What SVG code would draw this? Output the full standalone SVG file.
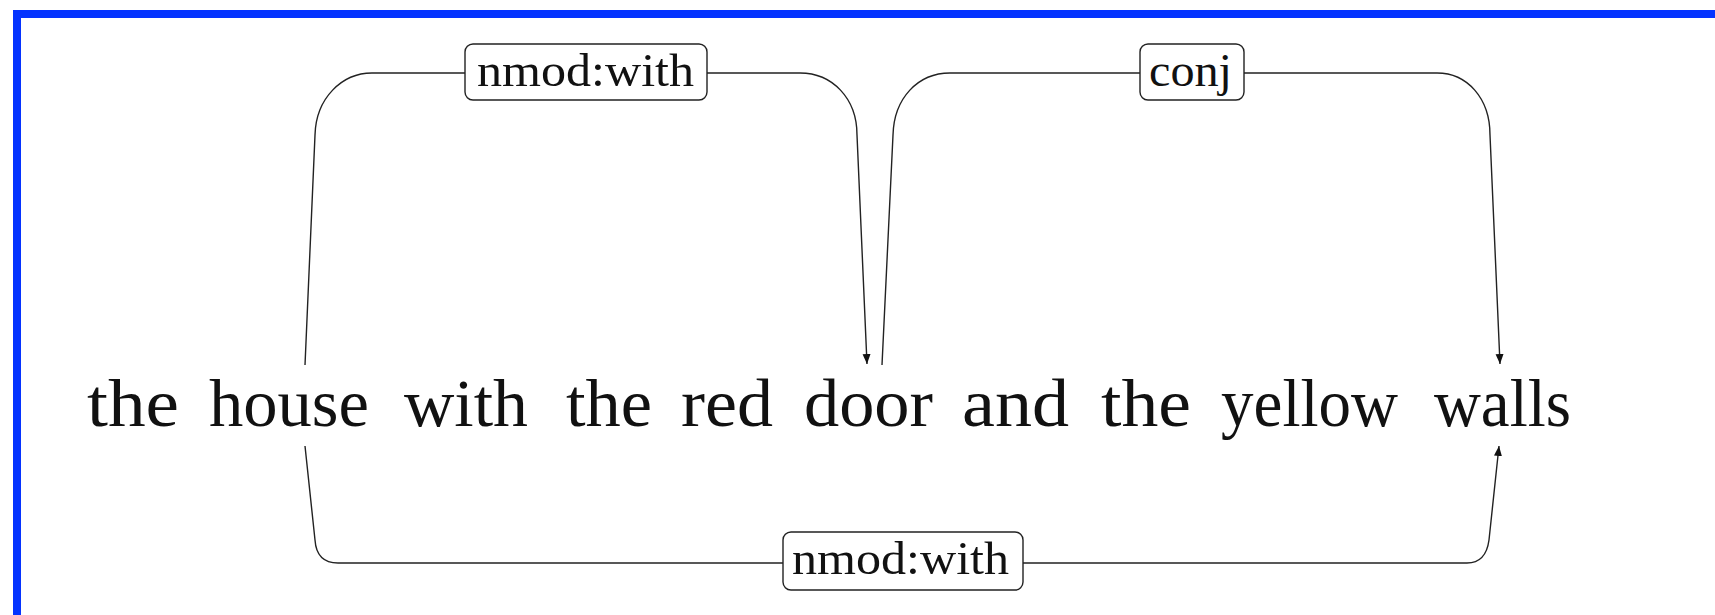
<svg xmlns="http://www.w3.org/2000/svg" width="1715" height="615" viewBox="0 0 1715 615">
<style>
.frame{fill:none;stroke:#0433ff;stroke-width:8}
.word{font-family:"Liberation Serif","DejaVu Serif",serif;font-size:68px;fill:#111}
.edge{fill:none;stroke:#222;stroke-width:1.4}
.lbox{fill:#fff;stroke:#222;stroke-width:1.4}
.ltext{font-family:"Liberation Serif","DejaVu Serif",serif;font-size:46px;fill:#111}
</style>
<defs>
<marker id="arr" markerUnits="userSpaceOnUse" markerWidth="12" markerHeight="10" refX="10" refY="4" orient="auto">
<path d="M0,0 L10,4 L0,8 z" fill="#111"/>
</marker>
</defs>
<rect class="frame" x="17" y="14" width="2000" height="1000"/>
<g id="words">
<g id="w1"><text class="word" x="87" y="426" textLength="92" lengthAdjust="spacingAndGlyphs">the</text></g>
<g id="w2"><text class="word" x="209" y="426" textLength="160" lengthAdjust="spacingAndGlyphs">house</text></g>
<g id="w3"><text class="word" x="404" y="426" textLength="124" lengthAdjust="spacingAndGlyphs">with</text></g>
<g id="w4"><text class="word" x="566" y="426" textLength="86" lengthAdjust="spacingAndGlyphs">the</text></g>
<g id="w5"><text class="word" x="681" y="426" textLength="92" lengthAdjust="spacingAndGlyphs">red</text></g>
<g id="w6"><text class="word" x="804" y="426" textLength="129" lengthAdjust="spacingAndGlyphs">door</text></g>
<g id="w7"><text class="word" x="962" y="426" textLength="107" lengthAdjust="spacingAndGlyphs">and</text></g>
<g id="w8"><text class="word" x="1101" y="426" textLength="90" lengthAdjust="spacingAndGlyphs">the</text></g>
<g id="w9"><text class="word" x="1221" y="426" textLength="177" lengthAdjust="spacingAndGlyphs">yellow</text></g>
<g id="w10"><text class="word" x="1434" y="426" textLength="137" lengthAdjust="spacingAndGlyphs">walls</text></g>
</g>
<g id="connectors">
<path class="edge" marker-end="url(#arr)" d="M305,365 L315,135 C316,98 342,73 372,73 L800,73 C832,73 857,98 857,135 L867,364"/>
<path class="edge" marker-end="url(#arr)" d="M882,365 L893,135 C894,98 918,73 950,73 L1437,73 C1467,73 1490,98 1490,135 L1500,364"/>
<path class="edge" marker-end="url(#arr)" d="M305,446 L315,540 C316,555 324,563 338,563 L1467,563 C1480,563 1487,555 1489,540 L1499,446"/>
<g id="lab1">
<rect class="lbox" x="465" y="44" width="242" height="56" rx="8"/>
<text class="ltext" x="477" y="86" textLength="217" lengthAdjust="spacingAndGlyphs">nmod:with</text>
</g>
<g id="lab2">
<rect class="lbox" x="1140" y="44" width="104" height="56" rx="8"/>
<text class="ltext" x="1149" y="86" textLength="83" lengthAdjust="spacingAndGlyphs">conj</text>
</g>
<g id="lab3">
<rect class="lbox" x="783" y="532" width="240" height="58" rx="8"/>
<text class="ltext" x="792" y="574" textLength="217" lengthAdjust="spacingAndGlyphs">nmod:with</text>
</g>
</g>
</svg>
